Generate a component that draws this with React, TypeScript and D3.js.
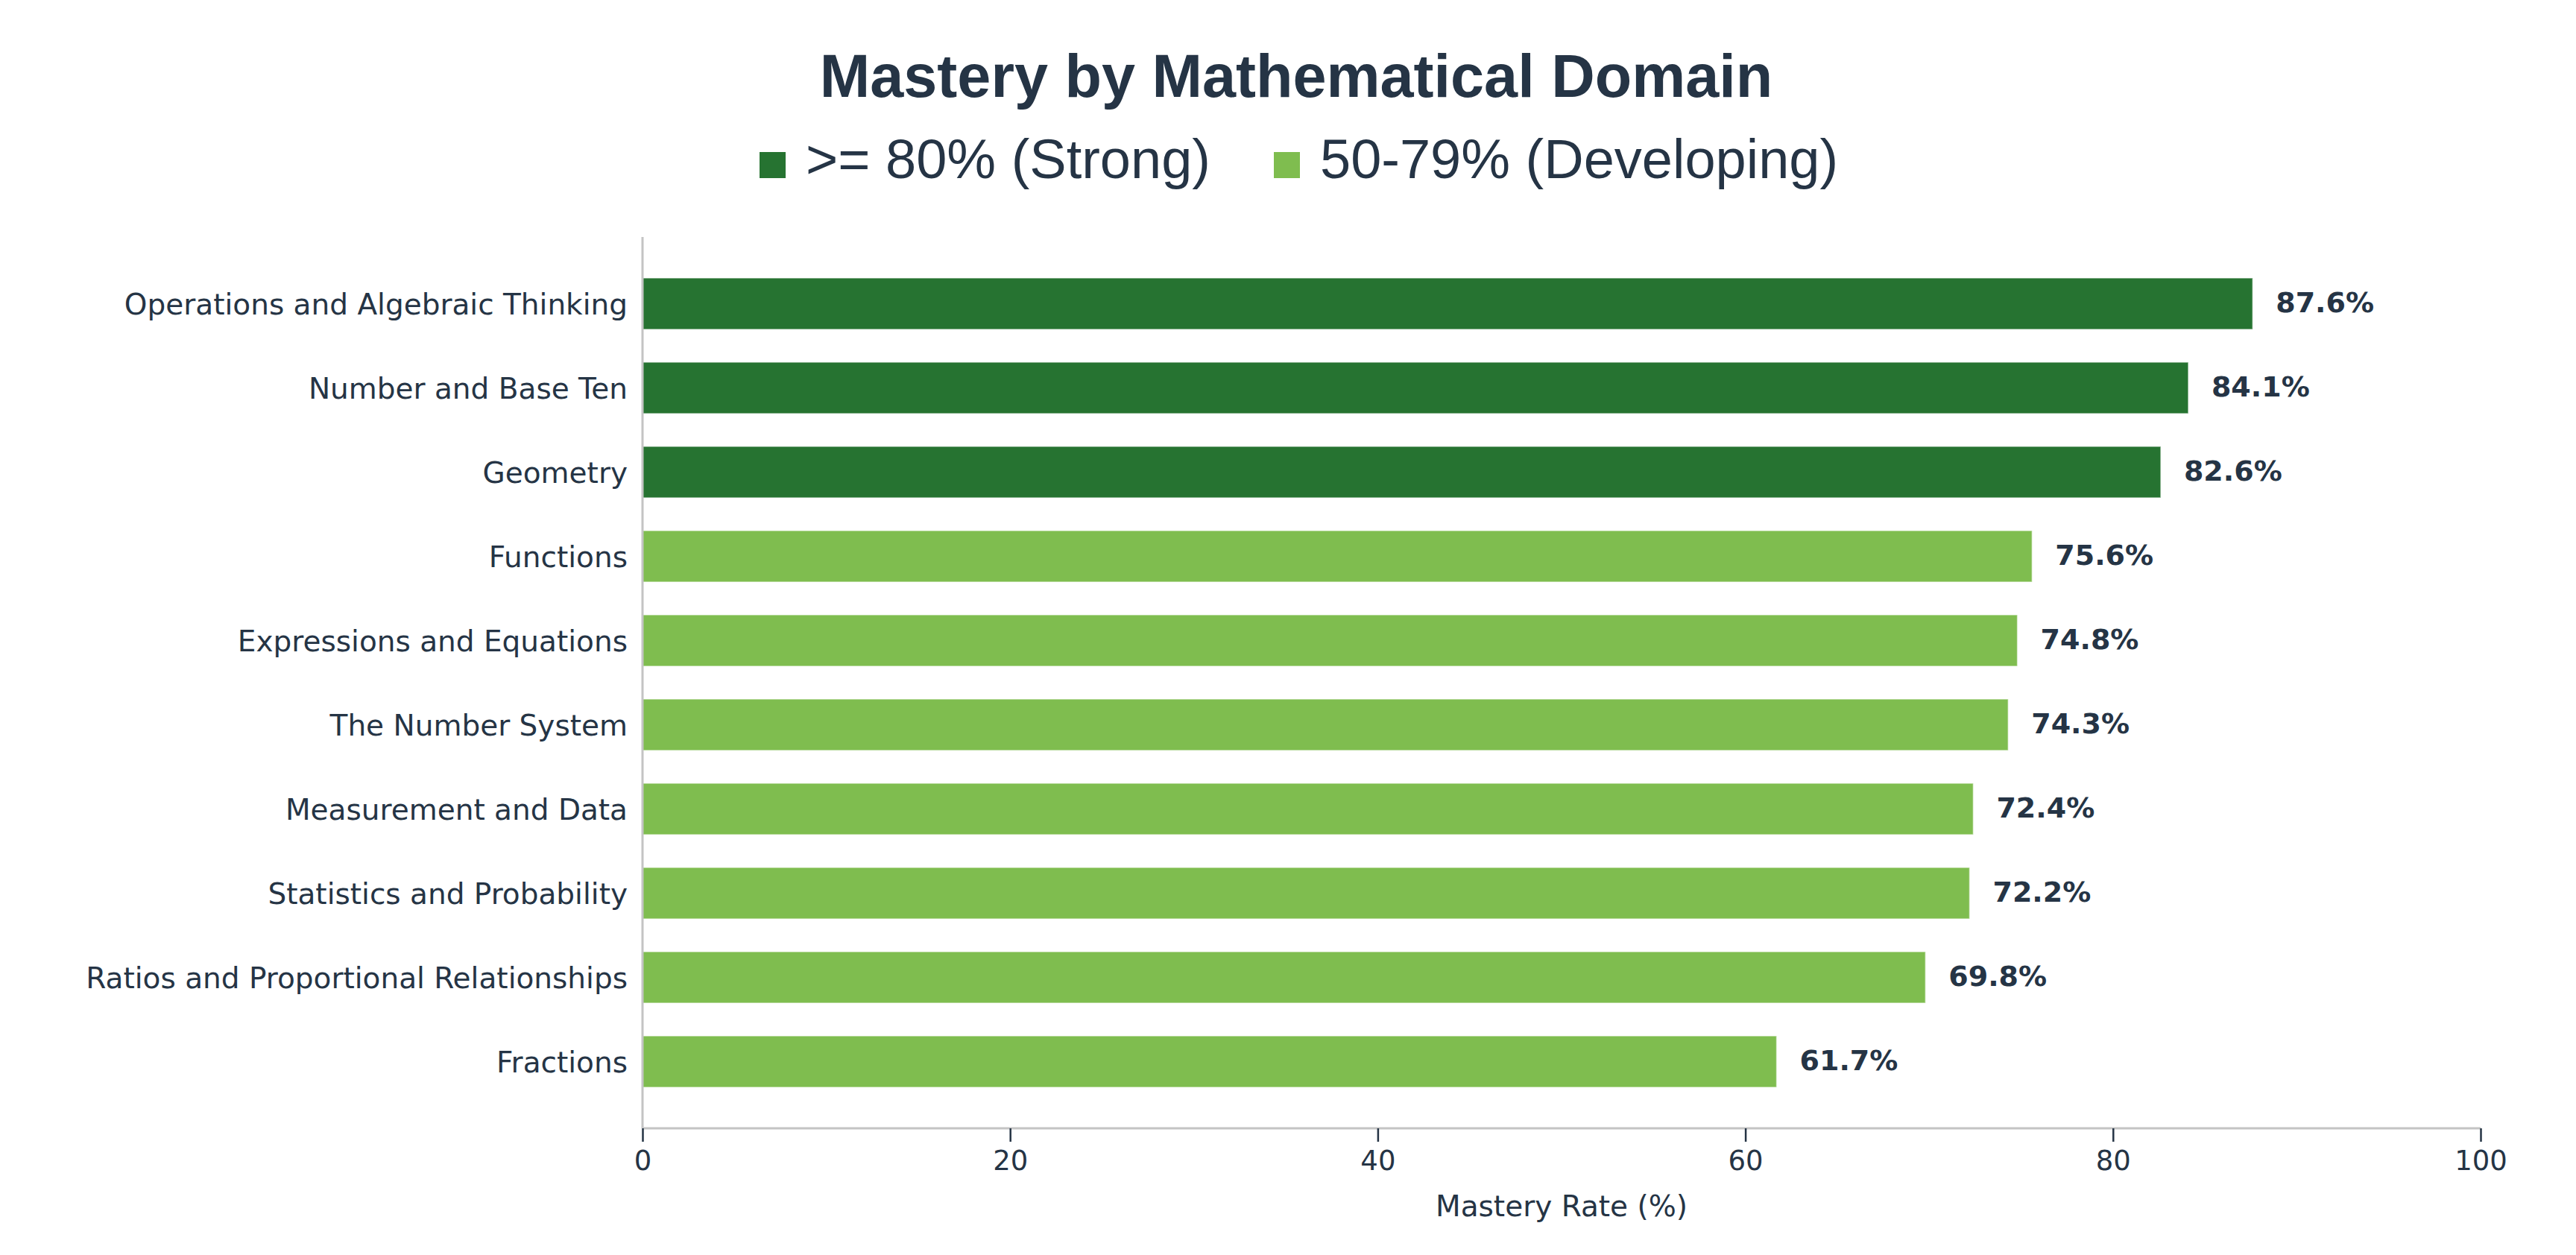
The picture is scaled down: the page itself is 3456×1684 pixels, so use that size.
import { useRef, useEffect } from "react";
import { select, scaleLinear, scaleBand, axisBottom } from "d3";

// Data
const domains = [
  "Operations and Algebraic Thinking",
  "Number and Base Ten",
  "Geometry",
  "Functions",
  "Expressions and Equations",
  "The Number System",
  "Measurement and Data",
  "Statistics and Probability",
  "Ratios and Proportional Relationships",
  "Fractions",
];
const mastery = [87.6, 84.1, 82.6, 75.6, 74.8, 74.3, 72.4, 72.2, 69.8, 61.7];
const xTicks = [0, 20, 40, 60, 80, 100];
const legendLabels = [">= 80% (Strong)", "50-79% (Developing)"];

const STRONG = "#267331";
const DEVELOPING = "#7fbd4f";
const TEXT = "#253445";

export default function App() {
  const svgRef = useRef<SVGSVGElement | null>(null);

  useEffect(() => {
    const svg = select(svgRef.current);
    svg.selectAll("*").remove();

    const left = 862;
    const right = 3328;
    const top = 318;
    const bottom = 1514;

    // Scales
    const x = scaleLinear().domain([0, 100]).range([left, right]);
    const y = scaleBand()
      .domain(domains)
      .range([top, bottom])
      .paddingInner(0.39)
      .paddingOuter(0.487);

    // Title
    svg
      .append("text")
      .attr("x", 1739)
      .attr("y", 130)
      .attr("text-anchor", "middle")
      .attr("font-family", "Liberation Sans, Arial, sans-serif")
      .attr("font-weight", "bold")
      .attr("font-size", 81)
      .attr("fill", TEXT)
      .text("Mastery by Mathematical Domain");

    // Legend
    const legendX = [1019, 1709];
    legendLabels.forEach((label, i) => {
      svg
        .append("rect")
        .attr("x", legendX[i])
        .attr("y", 204)
        .attr("width", 35)
        .attr("height", 35)
        .attr("fill", i === 0 ? STRONG : DEVELOPING);
      svg
        .append("text")
        .attr("x", legendX[i] + 62)
        .attr("y", 239)
        .attr("font-family", "Liberation Sans, Arial, sans-serif")
        .attr("font-size", 74)
        .attr("fill", TEXT)
        .text(label);
    });

    // Bars
    svg
      .append("g")
      .selectAll("rect")
      .data(domains)
      .join("rect")
      .attr("x", x(0))
      .attr("y", (d) => y(d)!)
      .attr("width", (d, i) => x(mastery[i]) - x(0))
      .attr("height", y.bandwidth())
      .attr("fill", (d, i) => (mastery[i] >= 80 ? STRONG : DEVELOPING))
      .attr("stroke", "#ffffff")
      .attr("stroke-opacity", 0.5)
      .attr("stroke-width", 1.5);

    // Value labels
    svg
      .append("g")
      .selectAll("text")
      .data(domains)
      .join("text")
      .attr("x", (d, i) => x(mastery[i]) + 31)
      .attr("y", (d) => y(d)! + y.bandwidth() / 2)
      .attr("dy", "0.3em")
      .attr("font-family", "DejaVu Sans, sans-serif")
      .attr("font-weight", "bold")
      .attr("font-size", 38)
      .attr("fill", TEXT)
      .text((d, i) => `${mastery[i].toFixed(1)}%`);

    // Category labels
    svg
      .append("g")
      .selectAll("text")
      .data(domains)
      .join("text")
      .attr("x", left - 20)
      .attr("y", (d) => y(d)! + y.bandwidth() / 2)
      .attr("dy", "0.37em")
      .attr("text-anchor", "end")
      .attr("font-family", "DejaVu Sans, sans-serif")
      .attr("font-size", 39)
      .attr("fill", TEXT)
      .text((d) => d);

    // Left axis line
    svg
      .append("line")
      .attr("x1", left)
      .attr("x2", left)
      .attr("y1", top)
      .attr("y2", bottom)
      .attr("stroke", "#c4c4c4")
      .attr("stroke-width", 3);

    // Bottom axis
    const xAxis = axisBottom(x)
      .tickValues(xTicks)
      .tickSize(18)
      .tickPadding(12)
      .tickFormat((d) => String(d));
    const gx = svg
      .append("g")
      .attr("transform", `translate(0, ${bottom})`)
      .call(xAxis);
    gx.select(".domain")
      .attr("stroke", "#c4c4c4")
      .attr("stroke-width", 3)
      .attr("d", `M${left},0H${right}`);
    gx.selectAll(".tick line").attr("stroke", TEXT).attr("stroke-width", 2.5);
    gx.selectAll(".tick text")
      .attr("font-family", "DejaVu Sans, sans-serif")
      .attr("font-size", 37)
      .attr("fill", TEXT);

    // Axis title
    svg
      .append("text")
      .attr("x", (left + right) / 2)
      .attr("y", 1632)
      .attr("text-anchor", "middle")
      .attr("font-family", "DejaVu Sans, sans-serif")
      .attr("font-size", 39)
      .attr("fill", TEXT)
      .text("Mastery Rate (%)");
  }, []);

  return (
    <svg
      ref={svgRef}
      width={3456}
      height={1684}
      style={{ position: "absolute", left: 0, top: 0, background: "#ffffff" }}
    />
  );
}
